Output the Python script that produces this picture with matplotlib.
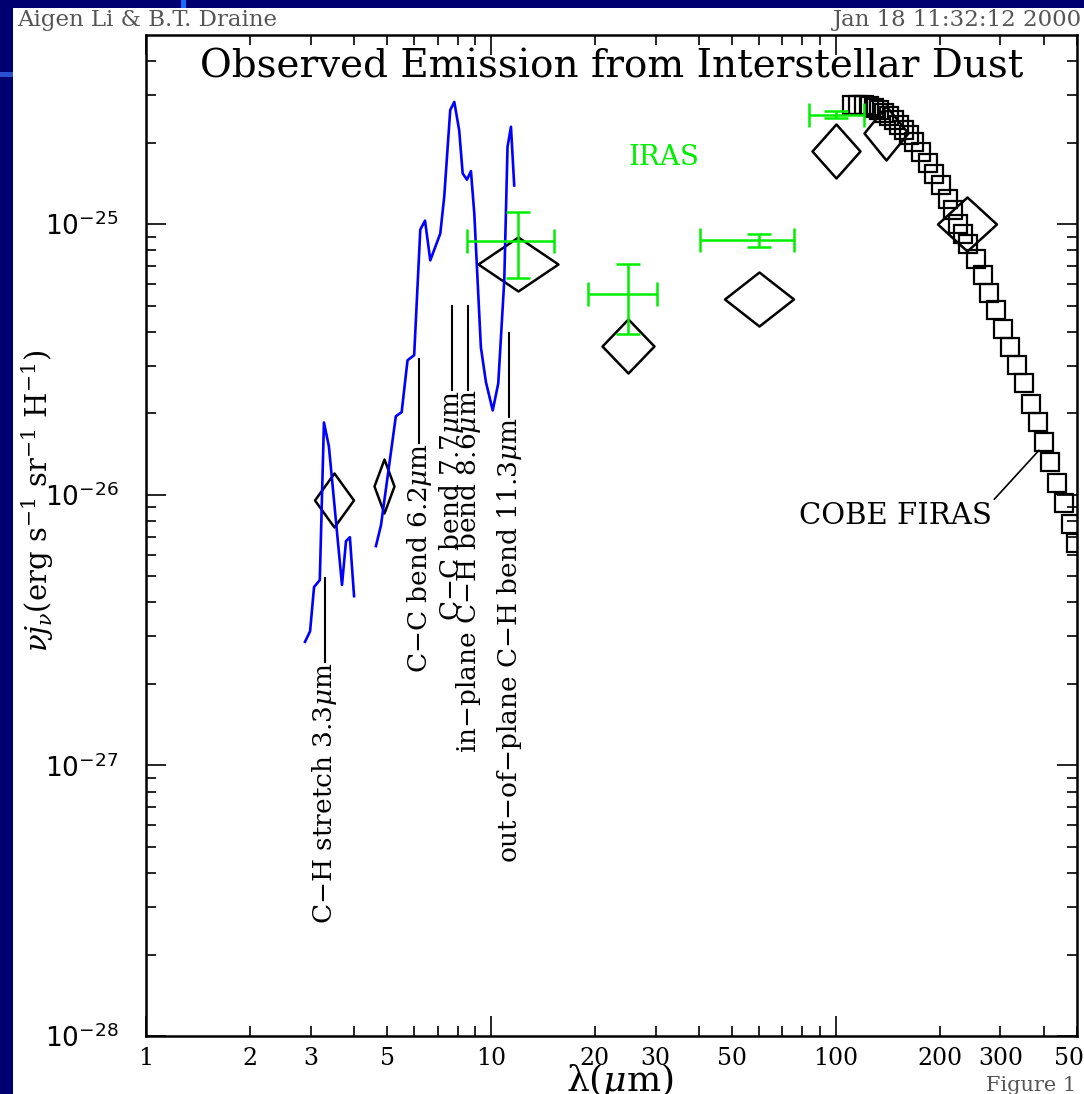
import numpy as np
import matplotlib.pyplot as plt
from matplotlib.path import Path
from matplotlib.patches import Rectangle

plt.rcParams['font.family'] = 'DejaVu Serif'
plt.rcParams['mathtext.fontset'] = 'dejavuserif'

# PAH emission spectrum, two separate pieces (um, erg s-1 sr-1 H-1)
pah_short_lam = [2.89, 2.99, 3.07, 3.19, 3.28, 3.39, 3.70, 3.80, 3.90, 4.01]
pah_short_flux = [2.86e-27, 3.13e-27, 4.56e-27, 4.84e-27, 1.85e-26, 1.51e-26,
                  4.64e-27, 6.74e-27, 6.97e-27, 4.22e-27]
pah_long_lam = [4.64, 4.80, 5.30, 5.51, 5.73, 5.99, 6.24, 6.44, 6.67, 7.13, 7.32,
                7.62, 7.83, 8.09, 8.28, 8.52, 8.75, 8.95, 9.35, 9.67, 10.12,
                10.50, 10.93, 11.17, 11.43, 11.68]
pah_long_flux = [6.46e-27, 7.72e-27, 1.95e-26, 2.02e-26, 3.14e-26, 3.28e-26,
                 9.55e-26, 1.03e-25, 7.35e-26, 9.23e-26, 1.26e-25, 2.64e-25,
                 2.83e-25, 2.22e-25, 1.54e-25, 1.46e-25, 1.57e-25, 1.09e-25,
                 3.51e-26, 2.61e-26, 2.05e-26, 2.58e-26, 6.20e-26, 1.93e-25,
                 2.29e-25, 1.39e-25]

# DIRBE band fluxes (diamonds)
dirbe_lam = [3.5, 4.9, 12, 25, 60, 100, 140, 240]
dirbe_flux = [9.58e-27, 1.08e-26, 7.15e-26, 3.55e-26, 5.28e-26, 1.86e-25,
              2.18e-25, 1.005e-25]

# IRAS bands with flux errors and band extent
iras_lam = [12, 25, 60, 100]
iras_flux = [8.67e-26, 5.54e-26, 8.72e-26, 2.54e-25]
iras_flux_lo = [6.35e-26, 3.94e-26, 8.24e-26, 2.47e-25]
iras_flux_hi = [1.11e-25, 7.15e-26, 9.23e-26, 2.61e-25]
iras_band_lo = [8.5, 19.1, 40.4, 83.7]
iras_band_hi = [15.2, 30.3, 75.7, 120.8]

# COBE FIRAS spectrum
firas_lam = [111.3, 116.0, 120.8, 124.9, 129.1, 133.5, 138.0, 142.7, 147.6,
             152.6, 157.1, 163.1, 168.6, 176.3, 184.4, 192.7, 201.5, 210.7,
             217.9, 225.3, 232.9, 242.1, 254.6, 266.2, 278.2, 290.9, 304.2,
             320.0, 334.6, 349.9, 367.4, 384.2, 399.9, 418.0, 437.1, 459.0,
             479.9, 496.2]
firas_flux = np.array([2.749, 2.749, 2.749, 2.726, 2.696, 2.651, 2.584, 2.510,
                       2.420, 2.319, 2.223, 2.130, 2.012, 1.848, 1.683, 1.538,
                       1.392, 1.243, 1.125, 1.005, 0.923, 0.846, 0.746, 0.647,
                       0.557, 0.481, 0.411, 0.352, 0.301, 0.258, 0.217, 0.186,
                       0.1568, 0.1323, 0.1107, 0.0929, 0.0783, 0.0661]) * 1e-25

# PAH feature labels
band_lam = [3.3, 6.2, 7.7, 8.6, 11.3]
band_names = ['C\u2212H stretch 3.3$\\mu$m', 'C\u2212C bend 6.2$\\mu$m',
              'C\u2212C bend 7.7$\\mu$m', 'in\u2212plane C\u2212H bend 8.6$\\mu$m',
              'out\u2212of\u2212plane C\u2212H bend 11.3$\\mu$m']
band_line_top = [4.92e-27, 3.18e-26, 4.97e-26, 4.97e-26, 3.95e-26]

xticks_major = [1, 10, 100]
xticks_labeled = [2, 3, 5, 20, 30, 50, 200, 300, 500]
yticks_exp = [-28, -27, -26, -25]
XLIM = (1, 500)
YLIM = (1e-28, 5e-25)

# diamond sizes in pixels (width follows the band width)
diamond_widths = [39, 20, 80, 52, 69, 48, 44, 59]
diamond_height = 54

W, H = 1084, 1094
PT = 0.72  # points per pixel at 100 dpi
green = '#00ee00'


def diamond(w, h):
    return Path([(-w / 2, 0), (0, h / 2), (w / 2, 0), (0, -h / 2), (-w / 2, 0)],
                closed=True)


fig = plt.figure(figsize=(W / 100, H / 100), dpi=100, facecolor='#000070')
fig.patches.append(Rectangle((13 / W, 0), 1, 1 - 8 / H, transform=fig.transFigure,
                             facecolor='white', edgecolor='none', zorder=-2))
fig.patches.append(Rectangle((181 / W, 1 - 8 / H), 5 / W, 8 / H, transform=fig.transFigure,
                             facecolor='#1a6cff', edgecolor='none', zorder=-2))
fig.patches.append(Rectangle((0, 1 - 77 / H), 13 / W, 5 / H, transform=fig.transFigure,
                             facecolor='#2a4fd0', edgecolor='none', zorder=-2))

ax = fig.add_axes([146 / W, 1 - 1036 / H, (1077 - 146) / W, (1036 - 35) / H])
ax.set_xscale('log')
ax.set_yscale('log')

# spectrum
ax.plot(pah_short_lam, pah_short_flux, color='#0000ff', lw=1.9, zorder=4)
ax.plot(pah_long_lam, pah_long_flux, color='#0000ff', lw=1.9, zorder=4)

# DIRBE diamonds
for lam, f, w in zip(dirbe_lam, dirbe_flux, diamond_widths):
    ax.plot([lam], [f], ls='none', marker=diamond(w, diamond_height),
            ms=max(w, diamond_height) * PT, mfc='none', mec='black', mew=1.8, zorder=3)

# IRAS
iras_flux_arr = np.array(iras_flux)
iras_lam_arr = np.array(iras_lam)
yerr = [iras_flux_arr - np.array(iras_flux_lo), np.array(iras_flux_hi) - iras_flux_arr]
xerr = [iras_lam_arr - np.array(iras_band_lo), np.array(iras_band_hi) - iras_lam_arr]
ax.errorbar(iras_lam, iras_flux, xerr=xerr, yerr=yerr, fmt='none', ecolor=green,
            elinewidth=1.8, capsize=8.6, capthick=1.8, zorder=5)
ax.text(31.7, 1.77e-25, 'IRAS', color=green, fontsize=20, ha='center', va='center')

# FIRAS
ax.plot(firas_lam, firas_flux, ls='none', marker='s', ms=13, mfc='none',
        mec='black', mew=1.6, zorder=3)
ax.annotate('COBE FIRAS', xy=(388, 1.46e-26), xytext=(283, 9.4e-27),
            ha='right', va='top', fontsize=21,
            arrowprops=dict(arrowstyle='-', color='black', lw=1.2, relpos=(1, 1),
                            shrinkA=0, shrinkB=0))

# feature labels
for lam, name, top in zip(band_lam, band_names, band_line_top):
    bottom = top / 2.04
    ax.plot([lam, lam], [bottom, top], color='black', lw=1.5)
    ax.text(lam, bottom, name, rotation=90, rotation_mode='anchor',
            ha='right', va='center', fontsize=19)

ax.text(0.5, 0.968, 'Observed Emission from Interstellar Dust', transform=ax.transAxes,
        ha='center', va='center', fontsize=28)

# axes styling
for sp in ax.spines.values():
    sp.set_linewidth(1.8)
ax.tick_params(which='both', direction='in', top=True, right=True, width=1.2)
ax.tick_params(which='major', length=14.4)
ax.tick_params(which='minor', length=7.2)
ax.tick_params(axis='x', which='both', pad=8, labelsize=17)
ax.tick_params(axis='y', which='major', pad=20, labelsize=19)

ax.set_xticks(xticks_major, labels=[str(t) for t in xticks_major])
xminor = [m * d for d in (1, 10, 100) for m in range(2, 10) if m * d <= XLIM[1]]
ax.set_xticks(xminor, labels=[str(t) if t in xticks_labeled else '' for t in xminor],
              minor=True)

ax.set_yticks([10.0 ** e for e in yticks_exp],
              labels=['$10^{%d}$' % e for e in yticks_exp])
yminor = [m * 10.0 ** e for e in yticks_exp for m in range(2, 10)
          if m * 10.0 ** e <= YLIM[1]]
ax.set_yticks(yminor, labels=[''] * len(yminor), minor=True)
for tick in ax.yaxis.get_major_ticks():
    tick.label1.set_math_fontfamily('dejavusans')
    tick.label1.set_fontfamily('DejaVu Sans')

# limits last, so the tick lists cannot widen them
ax.set_xlim(*XLIM)
ax.set_ylim(*YLIM)

ax.text(0.509, -0.044, 'λ($\\mu$m)', transform=ax.transAxes, ha='center',
        va='center', fontsize=26)
ax.text(-0.116, 0.535, '$\\nu j_\\nu$(erg s$^{-1}$ sr$^{-1}$ H$^{-1}$)',
        transform=ax.transAxes, rotation=90, ha='center', va='center', fontsize=21)

# page header / footer
fig.text(17 / W, 1 - 26 / H, 'Aigen Li & B.T. Draine', color='#555555',
         fontsize=16.5, ha='left', va='baseline')
fig.text(1082 / W, 1 - 26 / H, 'Jan 18 11:32:12 2000', color='#555555',
         fontsize=16.5, ha='right', va='baseline')
fig.text(1076 / W, 1 - 1076 / H, 'Figure 1', color='#555555',
         fontsize=15, ha='right', va='top')

fig.savefig('out.png', dpi=100, facecolor=fig.get_facecolor())
